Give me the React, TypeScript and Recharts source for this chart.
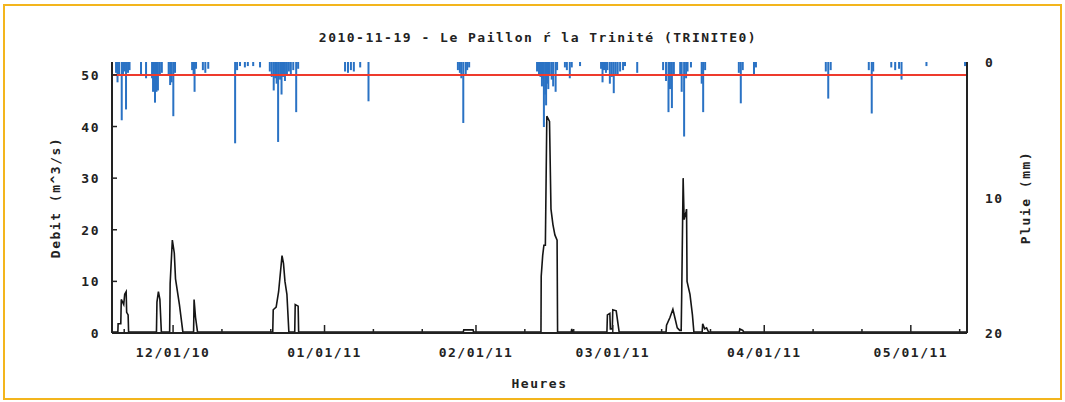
import { ComposedChart, Bar, Line, XAxis, YAxis, ReferenceLine } from 'recharts';

const FONT = "'DejaVu Sans Mono', monospace";
const INK = '#222';

// x values: days counted from 2010-11-19
const monthDays = [12, 43, 74, 102, 133, 163];
const monthLabels = ['12/01/10', '01/01/11', '02/01/11', '03/01/11', '04/01/11', '05/01/11'];
const minorDays = [2, 22, 32, 53, 63, 84, 94, 112, 122, 143, 153, 173];
const debitTicks = [0, 10, 20, 30, 40, 50];
const pluieTicks = [0, 10, 20];
const alertLevel = 50;

// débit (m3/s)
const flowDays = [
  -0.5, 0.7, 0.75, 1.3, 1.4, 1.9, 2.1, 2.4, 2.5, 2.8, 2.9,
  8.6, 8.7, 9.0, 9.3, 9.6,
  11.3, 11.4, 11.85, 12.25, 12.5, 13.3, 14.0,
  16.2, 16.3, 16.6, 17.0,
  32.4, 32.5, 33.1, 33.6, 34.3, 34.6, 34.9, 35.3, 35.7,
  36.9, 37.0, 37.6, 37.7,
  71.4, 71.5, 73.4, 73.5,
  87.3, 87.35, 87.65, 87.9, 88.2, 88.5, 89.05, 89.35, 89.75, 90.15, 90.6, 90.7,
  93.5, 93.6, 93.8,
  100.8, 100.9, 101.4, 101.5, 101.9, 102.0, 102.7, 103.3,
  112.9, 113.0, 113.7, 114.3, 114.7, 115.2, 115.7, 116.0,
  116.1, 116.4, 116.6, 117.0, 117.1, 117.2, 117.8, 118.3, 118.6,
  120.3, 120.4, 120.8, 121.2, 121.6,
  127.9, 128.0, 128.6, 128.8,
  174.5,
];
const flowValues = [
  0.2, 0.2, 1.8, 1.8, 6.5, 5.5, 7.5, 8, 4, 3.5, 0.2,
  0.2, 6, 8, 6.5, 0.2,
  0.2, 9.6, 18, 15.5, 10.5, 5.5, 0.2,
  0.2, 6.5, 3, 0.2,
  0.2, 4.5, 5, 8, 15, 13.5, 10, 7.5, 0.2,
  0.2, 5.5, 5.2, 0.2,
  0.2, 0.6, 0.6, 0.2,
  0.2, 11, 15, 17, 17, 42, 41, 24, 21, 19, 18, 0.2,
  0.2, 0.8, 0.2,
  0.2, 3.5, 3.8, 0.8, 0.8, 4.5, 4.3, 0.2,
  0.2, 1.5, 3, 4.6, 3, 1, 0.5, 0.5,
  7, 30, 22, 23.5, 24, 10, 7.5, 3.5, 0.2,
  0.2, 1.8, 0.8, 1, 0.2,
  0.2, 0.8, 0.5, 0.2,
  0.2,
];

// pluie (mm)
const rainDays = [
  0.33, 0.63, 0.94, 1.49, 1.76, 2.07, 2.37, 2.78, 3.09,
  5.44, 6.47,
  7.7, 7.9, 8.3, 8.6, 8.9, 9.3, 9.7,
  11.1, 11.4, 11.7, 12.05, 12.4,
  15.9, 16.2, 16.4, 16.7, 18.1, 18.6, 19.2,
  24.7, 25.1, 25.7, 26.7, 27.3, 28.4, 29.8,
  31.8, 32.2, 32.6, 32.9, 33.2, 33.5, 33.9, 34.2, 34.5, 34.9, 35.3, 35.7, 36.1, 36.6, 37.2, 37.6,
  47.2, 47.8, 48.4, 49.0, 50.3, 52.0,
  70.3, 70.7, 71.0, 71.4, 71.9, 72.2, 72.6,
  86.5, 86.9, 87.2, 87.5, 87.7, 87.9, 88.2, 88.35, 88.6, 88.8, 89.1, 89.5, 89.8, 90.3, 90.6,
  92.2, 92.6, 93.2, 93.6, 95.3,
  99.6, 99.9, 100.2, 100.6, 100.9, 101.4, 101.8, 102.2, 102.6, 103.0, 103.5, 104.1, 104.5, 107.0,
  112.3, 112.9, 113.4, 113.7, 114.1, 114.5, 115.8, 116.1, 116.6, 117.0, 117.3, 118.0,
  120.2, 120.5, 120.9,
  127.8, 128.2, 128.6, 130.9, 131.3,
  145.6, 146.1, 146.6,
  154.4, 155.0, 155.3,
  159.0, 159.8, 160.6, 161.1, 166.2, 174.1,
];
const rainValues = [
  0.8, 1.5, 0.9, 4.3, 0.9, 0.7, 3.5, 0.8, 0.6,
  0.9, 1.2,
  1.2, 2.2, 3.0, 2.2, 2.1, 1.0, 0.8,
  1.0, 1.7, 1.5, 4.0, 0.8,
  0.6, 0.9, 2.2, 0.5, 0.6, 0.8, 0.5,
  6.0, 0.6, 0.3, 0.4, 0.3, 0.3, 0.4,
  0.7, 1.1, 2.1, 1.2, 1.6, 5.9, 1.3, 2.4, 1.1, 1.4, 0.9, 0.7, 0.9, 0.6, 3.7, 0.5,
  0.7, 0.8, 0.6, 0.7, 0.4, 2.9,
  0.6, 0.8, 1.2, 4.5, 1.0, 0.6, 0.4,
  0.7, 1.0, 1.1, 1.8, 1.2, 4.8, 2.4, 3.2, 1.6, 2.0, 1.0, 1.3, 1.8, 2.2, 0.6,
  0.4, 0.6, 1.2, 0.4, 0.3,
  0.5, 1.5, 0.6, 0.8, 0.6, 1.6, 1.1, 2.3, 1.0, 0.9, 0.7, 0.6, 0.3, 0.8,
  0.6, 1.4, 3.7, 2.0, 3.4, 1.0, 1.0, 2.2, 5.5, 1.2, 0.7, 0.4,
  1.6, 3.7, 0.6,
  0.8, 3.05, 0.6, 0.96, 0.4,
  0.7, 2.7, 0.6,
  0.6, 3.8, 0.7,
  0.4, 0.6, 0.5, 1.3, 0.3, 0.3,
];

const flowData = flowDays.map((day, i) => ({ day, debit: flowValues[i] }));
const rainData = rainDays.map((day, i) => ({ day, pluie: rainValues[i] }));
const xTicks = [...monthDays, ...minorDays].sort((a, b) => a - b);

const textStyle = { fontFamily: FONT, fontWeight: 700, fontSize: 13, letterSpacing: 1.5, fill: INK };

function BottomTick(p: any) {
  const i = monthDays.indexOf(p.payload.value);
  const len = i >= 0 ? 8 : 4;
  return (
    <g>
      <line x1={p.x} x2={p.x} y1={p.y} y2={p.y - len} stroke={INK} strokeWidth={1.5} />
      {i >= 0 && (
        <text x={p.x} y={p.y + 24} textAnchor="middle" style={textStyle}>{monthLabels[i]}</text>
      )}
    </g>
  );
}

function TopTick(p: any) {
  const len = monthDays.includes(p.payload.value) ? 8 : 4;
  return <line x1={p.x} x2={p.x} y1={p.y} y2={p.y + len} stroke={INK} strokeWidth={1.5} />;
}

function LeftTick(p: any) {
  return (
    <g>
      <line x1={p.x} x2={p.x + 5} y1={p.y} y2={p.y} stroke={INK} strokeWidth={1.5} />
      <text x={p.x - 12} y={p.y + 5} textAnchor="end" style={textStyle}>{p.payload.value}</text>
    </g>
  );
}

function RightTick(p: any) {
  return (
    <text x={p.x + 18} y={p.y + 5} textAnchor="start" style={textStyle}>{p.payload.value}</text>
  );
}

function RainBar(p: any) {
  const { x, y, width, height } = p;
  if (height == null || isNaN(height) || height === 0) return null;
  const top = Math.min(y, y + height);
  return <rect x={x + width / 2 - 1} y={top} width={2} height={Math.abs(height)} fill="#2a72c4" />;
}

const labelStyle = { fontFamily: FONT, fontWeight: 700, fontSize: 13, letterSpacing: 1.5, fill: INK, textAnchor: 'middle' as const };

export default function App() {
  return (
    <div style={{ position: 'absolute', left: 0, top: 0, width: 1065, height: 402, background: '#fff' }}>
      <div style={{ position: 'absolute', left: 3, top: 4, width: 1059, height: 396, boxSizing: 'border-box', border: '2px solid #f3b51d' }} />
      <div style={{ position: 'absolute', left: 0, top: 30, width: 1076, textAlign: 'center', fontFamily: FONT, fontWeight: 700, fontSize: 13, letterSpacing: 1.5, lineHeight: '16px', color: INK }}>
        2010-11-19 - Le Paillon ŕ la Trinité (TRINITE0)
      </div>
      <div style={{ position: 'absolute', left: 0, top: 0 }}>
        <ComposedChart width={1065} height={402} data={rainData} margin={{ top: 62, right: 0, bottom: 0, left: 0 }}>
          <XAxis
            xAxisId="bottom" type="number" dataKey="day" domain={[-0.5, 174.5]} allowDataOverflow
            ticks={xTicks} interval={0} height={69} tick={(p: any) => <BottomTick {...p} />}
            tickLine={false} tickSize={0} tickMargin={0} axisLine={{ stroke: INK, strokeWidth: 2 }}
            label={{ value: 'Heures', position: 'insideBottom', offset: 14, style: labelStyle }}
          />
          <XAxis
            xAxisId="top" orientation="top" type="number" dataKey="day" domain={[-0.5, 174.5]} allowDataOverflow
            ticks={xTicks} interval={0} height={0} tick={(p: any) => <TopTick {...p} />}
            tickLine={false} tickSize={0} tickMargin={0} axisLine={{ stroke: '#444', strokeWidth: 2 }}
          />
          <YAxis
            yAxisId="left" orientation="left" width={112} domain={[0, 52.5]} allowDataOverflow
            ticks={debitTicks} interval={0} tick={(p: any) => <LeftTick {...p} />}
            tickLine={false} tickSize={0} tickMargin={0} axisLine={{ stroke: INK, strokeWidth: 2 }}
            label={{ value: 'Debit (m^3/s)', angle: -90, position: 'insideLeft', offset: 55, style: labelStyle }}
          />
          <YAxis
            yAxisId="right" orientation="right" width={98} domain={[0, 20]} reversed allowDataOverflow
            ticks={pluieTicks} interval={0} tick={(p: any) => <RightTick {...p} />}
            tickLine={false} tickSize={0} tickMargin={0} axisLine={{ stroke: INK, strokeWidth: 2 }}
            label={{ value: 'Pluie (mm)', angle: -90, position: 'insideRight', offset: 40, style: labelStyle }}
          />
          <Bar xAxisId="top" yAxisId="right" dataKey="pluie" shape={(p: any) => <RainBar {...p} />} isAnimationActive={false} />
          <Line
            xAxisId="bottom" yAxisId="left" data={flowData} dataKey="debit" type="linear"
            stroke="#151515" strokeWidth={1.6} dot={false} isAnimationActive={false}
          />
          <ReferenceLine xAxisId="bottom" yAxisId="left" y={alertLevel} stroke="#ee3a2c" strokeWidth={2} />
        </ComposedChart>
      </div>
    </div>
  );
}
